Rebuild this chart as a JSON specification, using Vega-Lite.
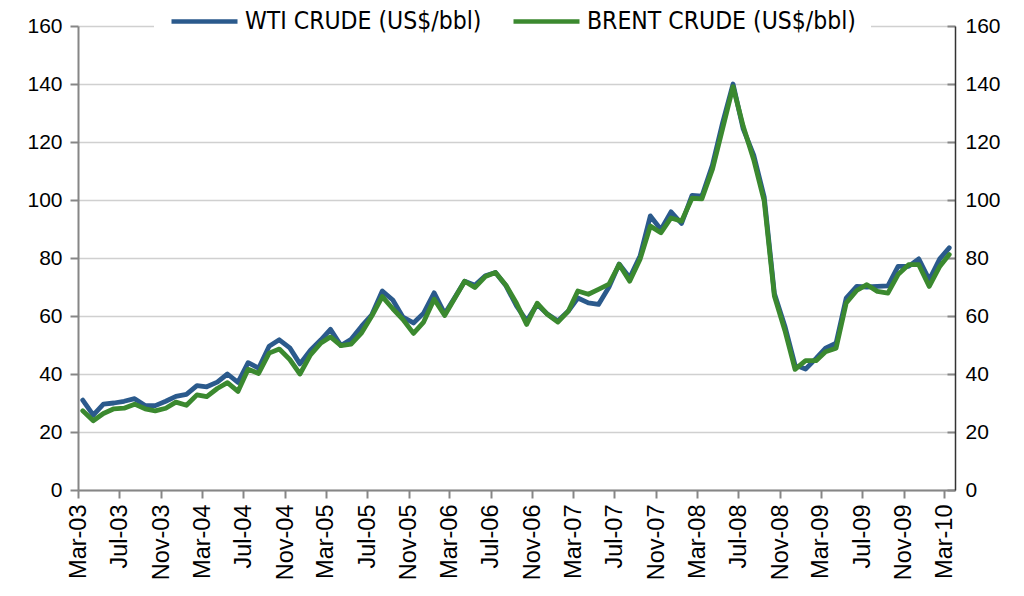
{
  "$schema": "https://vega.github.io/schema/vega-lite/v6.json",
  "width": 877,
  "height": 464,
  "autosize": {"type": "none"},
  "padding": {"left": 78, "top": 26, "right": 69, "bottom": 106},
  "background": "white",
  "config": {"view": {"stroke": null}, "font": "Liberation Sans"},
  "data": {
    "values": [
      {"month": "2003-03-15", "WTI": 31.0, "BRENT": 27.3},
      {"month": "2003-04-15", "WTI": 25.8, "BRENT": 23.9},
      {"month": "2003-05-15", "WTI": 29.6, "BRENT": 26.4},
      {"month": "2003-06-15", "WTI": 30.0, "BRENT": 28.0},
      {"month": "2003-07-15", "WTI": 30.6, "BRENT": 28.2},
      {"month": "2003-08-15", "WTI": 31.5, "BRENT": 29.6},
      {"month": "2003-09-15", "WTI": 29.1, "BRENT": 28.0},
      {"month": "2003-10-15", "WTI": 29.1, "BRENT": 27.3},
      {"month": "2003-11-15", "WTI": 30.6, "BRENT": 28.2},
      {"month": "2003-12-15", "WTI": 32.3, "BRENT": 30.3},
      {"month": "2004-01-15", "WTI": 33.0, "BRENT": 29.2},
      {"month": "2004-02-15", "WTI": 36.0, "BRENT": 32.8},
      {"month": "2004-03-15", "WTI": 35.6, "BRENT": 32.2},
      {"month": "2004-04-15", "WTI": 37.2, "BRENT": 35.0},
      {"month": "2004-05-15", "WTI": 40.0, "BRENT": 37.0},
      {"month": "2004-06-15", "WTI": 37.1, "BRENT": 34.0},
      {"month": "2004-07-15", "WTI": 43.9, "BRENT": 41.6},
      {"month": "2004-08-15", "WTI": 42.0, "BRENT": 40.2},
      {"month": "2004-09-15", "WTI": 49.6, "BRENT": 47.2},
      {"month": "2004-10-15", "WTI": 51.8, "BRENT": 48.6},
      {"month": "2004-11-15", "WTI": 49.0, "BRENT": 45.0},
      {"month": "2004-12-15", "WTI": 43.5, "BRENT": 40.0},
      {"month": "2005-01-15", "WTI": 48.2, "BRENT": 46.6},
      {"month": "2005-02-15", "WTI": 51.8, "BRENT": 50.7},
      {"month": "2005-03-15", "WTI": 55.4, "BRENT": 52.8},
      {"month": "2005-04-15", "WTI": 49.8, "BRENT": 49.8},
      {"month": "2005-05-15", "WTI": 52.0, "BRENT": 50.3},
      {"month": "2005-06-15", "WTI": 56.5, "BRENT": 54.2},
      {"month": "2005-07-15", "WTI": 60.4, "BRENT": 60.0},
      {"month": "2005-08-15", "WTI": 68.6, "BRENT": 66.7},
      {"month": "2005-09-15", "WTI": 65.5, "BRENT": 62.5},
      {"month": "2005-10-15", "WTI": 59.6, "BRENT": 58.8},
      {"month": "2005-11-15", "WTI": 57.6, "BRENT": 54.0},
      {"month": "2005-12-15", "WTI": 61.0, "BRENT": 57.9},
      {"month": "2006-01-15", "WTI": 68.0, "BRENT": 65.8},
      {"month": "2006-02-15", "WTI": 60.8, "BRENT": 60.2},
      {"month": "2006-03-15", "WTI": 66.0, "BRENT": 65.8},
      {"month": "2006-04-15", "WTI": 72.0, "BRENT": 72.0},
      {"month": "2006-05-15", "WTI": 70.6, "BRENT": 69.8},
      {"month": "2006-06-15", "WTI": 73.9, "BRENT": 73.6},
      {"month": "2006-07-15", "WTI": 75.0, "BRENT": 75.0},
      {"month": "2006-08-15", "WTI": 70.4, "BRENT": 70.6},
      {"month": "2006-09-15", "WTI": 63.5, "BRENT": 64.4},
      {"month": "2006-10-15", "WTI": 58.3, "BRENT": 57.1},
      {"month": "2006-11-15", "WTI": 64.0, "BRENT": 64.4},
      {"month": "2006-12-15", "WTI": 60.7, "BRENT": 60.6},
      {"month": "2007-01-15", "WTI": 58.3, "BRENT": 57.9},
      {"month": "2007-02-15", "WTI": 61.7, "BRENT": 61.7},
      {"month": "2007-03-15", "WTI": 66.2, "BRENT": 68.6},
      {"month": "2007-04-15", "WTI": 64.5, "BRENT": 67.5},
      {"month": "2007-05-15", "WTI": 64.0, "BRENT": 69.2},
      {"month": "2007-06-15", "WTI": 70.0, "BRENT": 71.0},
      {"month": "2007-07-15", "WTI": 77.9, "BRENT": 77.8},
      {"month": "2007-08-15", "WTI": 73.2, "BRENT": 72.0},
      {"month": "2007-09-15", "WTI": 80.8, "BRENT": 79.7},
      {"month": "2007-10-15", "WTI": 94.5, "BRENT": 91.0},
      {"month": "2007-11-15", "WTI": 89.8, "BRENT": 88.7},
      {"month": "2007-12-15", "WTI": 95.9, "BRENT": 93.8},
      {"month": "2008-01-15", "WTI": 91.9, "BRENT": 92.7},
      {"month": "2008-02-15", "WTI": 101.6, "BRENT": 100.6},
      {"month": "2008-03-15", "WTI": 101.3, "BRENT": 100.4},
      {"month": "2008-04-15", "WTI": 112.0, "BRENT": 110.5},
      {"month": "2008-05-15", "WTI": 126.5, "BRENT": 124.5},
      {"month": "2008-06-15", "WTI": 140.0, "BRENT": 139.1},
      {"month": "2008-07-15", "WTI": 124.5, "BRENT": 125.4},
      {"month": "2008-08-15", "WTI": 115.5, "BRENT": 113.9},
      {"month": "2008-09-15", "WTI": 101.0, "BRENT": 99.6},
      {"month": "2008-10-15", "WTI": 67.8, "BRENT": 66.9},
      {"month": "2008-11-15", "WTI": 56.5, "BRENT": 55.0},
      {"month": "2008-12-15", "WTI": 43.1, "BRENT": 41.6},
      {"month": "2009-01-15", "WTI": 41.7, "BRENT": 44.6},
      {"month": "2009-02-15", "WTI": 45.4, "BRENT": 44.6},
      {"month": "2009-03-15", "WTI": 48.9, "BRENT": 47.7},
      {"month": "2009-04-15", "WTI": 50.6, "BRENT": 48.9},
      {"month": "2009-05-15", "WTI": 66.2, "BRENT": 64.5},
      {"month": "2009-06-15", "WTI": 70.2, "BRENT": 68.8},
      {"month": "2009-07-15", "WTI": 70.0, "BRENT": 70.8},
      {"month": "2009-08-15", "WTI": 70.2, "BRENT": 68.5},
      {"month": "2009-09-15", "WTI": 70.4, "BRENT": 67.9},
      {"month": "2009-10-15", "WTI": 77.1, "BRENT": 74.3},
      {"month": "2009-11-15", "WTI": 77.1, "BRENT": 77.7},
      {"month": "2009-12-15", "WTI": 79.7, "BRENT": 77.7},
      {"month": "2010-01-15", "WTI": 72.5, "BRENT": 70.2},
      {"month": "2010-02-15", "WTI": 79.7, "BRENT": 77.1},
      {"month": "2010-03-15", "WTI": 83.5, "BRENT": 81.2}
    ]
  },
  "transform": [{"fold": ["WTI", "BRENT"], "as": ["series", "price"]}],
  "encoding": {
    "x": {
      "field": "month",
      "type": "temporal",
      "scale": {"type": "utc", "domain": [{"year": 2003, "month": 3, "date": 1, "utc": true}, {"year": 2010, "month": 4, "date": 1, "utc": true}]},
      "axis": {
        "title": null,
        "labelExpr": "utcFormat(datum.value, '%b-%y')",
        "values": [
          {"year": 2003, "month": 3, "date": 1, "utc": true},
          {"year": 2003, "month": 7, "date": 1, "utc": true},
          {"year": 2003, "month": 11, "date": 1, "utc": true},
          {"year": 2004, "month": 3, "date": 1, "utc": true},
          {"year": 2004, "month": 7, "date": 1, "utc": true},
          {"year": 2004, "month": 11, "date": 1, "utc": true},
          {"year": 2005, "month": 3, "date": 1, "utc": true},
          {"year": 2005, "month": 7, "date": 1, "utc": true},
          {"year": 2005, "month": 11, "date": 1, "utc": true},
          {"year": 2006, "month": 3, "date": 1, "utc": true},
          {"year": 2006, "month": 7, "date": 1, "utc": true},
          {"year": 2006, "month": 11, "date": 1, "utc": true},
          {"year": 2007, "month": 3, "date": 1, "utc": true},
          {"year": 2007, "month": 7, "date": 1, "utc": true},
          {"year": 2007, "month": 11, "date": 1, "utc": true},
          {"year": 2008, "month": 3, "date": 1, "utc": true},
          {"year": 2008, "month": 7, "date": 1, "utc": true},
          {"year": 2008, "month": 11, "date": 1, "utc": true},
          {"year": 2009, "month": 3, "date": 1, "utc": true},
          {"year": 2009, "month": 7, "date": 1, "utc": true},
          {"year": 2009, "month": 11, "date": 1, "utc": true},
          {"year": 2010, "month": 3, "date": 1, "utc": true}
        ],
        "labelAngle": -90,
        "labelAlign": "right",
        "labelBaseline": "middle",
        "labelFontSize": 23.5,
        "labelColor": "black",
        "labelPadding": 6,
        "labelOverlap": false,
        "labelFlush": false,
        "domainColor": "#868686",
        "domainWidth": 2,
        "tickColor": "#868686",
        "tickWidth": 2,
        "tickSize": 8,
        "grid": false
      }
    },
    "color": {
      "field": "series",
      "type": "nominal",
      "scale": {"domain": ["WTI", "BRENT"], "range": ["#2B5A8C", "#3B892F"]},
      "legend": {
        "orient": "none",
        "legendX": 76,
        "legendY": -55,
        "direction": "horizontal",
        "title": null,
        "symbolType": "stroke",
        "symbolStrokeWidth": 4.5,
        "symbolSize": 4356,
        "labelFont": "DejaVu Sans Condensed, Liberation Sans Narrow, Liberation Sans",
        "labelFontSize": 24.5,
        "labelColor": "black",
        "labelExpr": "datum.label + ' CRUDE (US$/bbl)'",
        "labelLimit": 400,
        "labelOffset": 5,
        "columnPadding": 22,
        "fillColor": "white",
        "padding": 15
      }
    }
  },
  "layer": [
    {
      "transform": [{"filter": "datum.series == 'WTI'"}],
      "mark": {"type": "line", "strokeWidth": 4.8, "strokeJoin": "round", "strokeCap": "round"},
      "encoding": {
        "y": {
          "field": "price",
          "type": "quantitative",
          "scale": {"domain": [0, 160], "nice": false},
          "axis": {
            "title": null,
            "values": [0, 20, 40, 60, 80, 100, 120, 140, 160],
            "labelFontSize": 21,
            "labelColor": "black",
            "labelPadding": 8,
            "domainColor": "#868686",
            "domainWidth": 2,
            "tickColor": "#868686",
            "tickWidth": 2,
            "tickSize": 8,
            "grid": true,
            "gridColor": "#d0d0d0",
            "gridWidth": 1.5
          }
        }
      }
    },
    {
      "transform": [{"filter": "datum.series == 'BRENT'"}],
      "mark": {"type": "line", "strokeWidth": 4.8, "strokeJoin": "round", "strokeCap": "round"},
      "encoding": {
        "y": {
          "field": "price",
          "type": "quantitative",
          "axis": {
            "orient": "right",
            "title": null,
            "values": [0, 20, 40, 60, 80, 100, 120, 140, 160],
            "labelFontSize": 21,
            "labelColor": "black",
            "labelPadding": 18,
            "domainColor": "#333333",
            "domainWidth": 1.5,
            "tickColor": "#868686",
            "tickWidth": 2,
            "tickSize": -8,
            "grid": false
          }
        }
      }
    }
  ],
  "resolve": {"axis": {"y": "independent"}}
}
